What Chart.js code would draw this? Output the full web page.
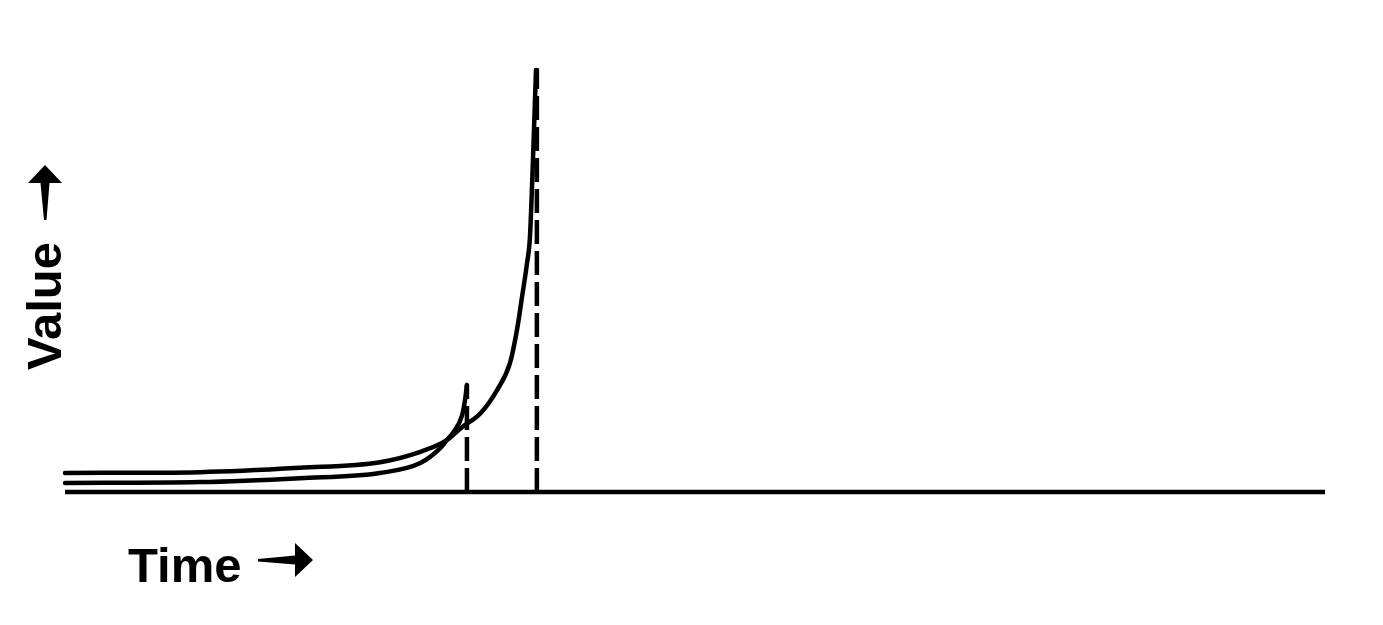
<!DOCTYPE html>
<html>
<head>
<meta charset="utf-8">
<script src="https://cdn.jsdelivr.net/npm/chart.js@4/dist/chart.umd.min.js"></script>
<style>
html,body{margin:0;padding:0;background:#fff;}
#wrap{width:1383px;height:625px;position:relative;}
</style>
</head>
<body>
<div id="wrap"><canvas id="c"></canvas></div>
<script>
// Curve A (tall curve with asymptote)
const curveAx = [0, 10.7, 18.65, 25.0, 28.2, 30.3, 31.5, 32.94, 34.29, 35.32, 35.87, 36.27, 36.67, 36.90, 37.14, 37.38];
const curveAy = [4.4, 4.6, 5.6, 6.9, 9.3, 12.0, 15.0, 18.1, 23.6, 29.9, 37.5, 45.1, 53.0, 59.0, 76.9, 97.7];
// Curve B (short curve)
const curveBx = [0, 10.7, 18.65, 25.0, 28.2, 29.8, 30.3, 30.8, 31.5, 31.75, 31.9];
const curveBy = [2.1, 2.3, 3.2, 4.4, 6.7, 10.2, 12.0, 13.7, 17.6, 21.3, 24.8];
// Dashed vertical markers
const markerX = [31.9, 37.45];
const markerTop = [24.8, 98.1];
// Baseline (time axis)
const baseX = [0, 100];
const baseY = [0, 0];
const xLabel = "Time";
const yLabel = "Value";

const pts = (xs, ys) => xs.map((x, i) => ({x: x, y: ys[i]}));

const datasets = [
  {data: pts(baseX, baseY), borderColor: '#000', borderWidth: 4.5, pointRadius: 0, clip: false},
  {data: pts(curveBx, curveBy), borderColor: '#000', borderWidth: 4.5, pointRadius: 0, cubicInterpolationMode: 'monotone', borderCapStyle: 'round', clip: false},
  {data: pts(curveAx, curveAy), borderColor: '#000', borderWidth: 4.5, pointRadius: 0, cubicInterpolationMode: 'monotone', borderCapStyle: 'round', clip: false}
];
markerX.forEach((mx, i) => {
  datasets.push({data: [{x: mx, y: 0}, {x: mx, y: markerTop[i]}], borderColor: '#000', borderWidth: 4.5, borderDash: [24, 7], pointRadius: 0, clip: false});
});

function drawArrow(ctx, tipX, tipY, angle) {
  ctx.save();
  ctx.translate(tipX, tipY);
  ctx.rotate(angle);
  ctx.beginPath();
  ctx.moveTo(0, 0);
  ctx.lineTo(-18, -17);
  ctx.lineTo(-18, -4.5);
  ctx.lineTo(-55, -1);
  ctx.lineTo(-55, 1.5);
  ctx.lineTo(-18, 4.5);
  ctx.lineTo(-18, 17);
  ctx.closePath();
  ctx.fill();
  ctx.restore();
}

const labelsPlugin = {
  id: 'labels',
  afterDraw(chart) {
    const ctx = chart.ctx;
    ctx.save();
    ctx.fillStyle = '#000';
    ctx.textBaseline = 'alphabetic';
    ctx.textAlign = 'left';
    ctx.font = "bold 49px 'Liberation Sans', Arial, sans-serif";
    ctx.fillText(xLabel, 128, 582);
    drawArrow(ctx, 313, 560, 0);
    drawArrow(ctx, 45, 165, -Math.PI / 2);
    ctx.translate(61, 370);
    ctx.rotate(-Math.PI / 2);
    ctx.fillText(yLabel, 0, 0);
    ctx.restore();
  }
};

new Chart(document.getElementById('c'), {
  type: 'line',
  data: {datasets: datasets},
  options: {
    responsive: true,
    maintainAspectRatio: false,
    animation: false,
    layout: {padding: {left: 65, right: 58, top: 60, bottom: 133}},
    plugins: {legend: {display: false}, tooltip: {enabled: false}},
    scales: {
      x: {type: 'linear', min: 0, max: 100, display: false},
      y: {type: 'linear', min: 0, max: 100, display: false}
    }
  },
  plugins: [labelsPlugin]
});
</script>
</body>
</html>
